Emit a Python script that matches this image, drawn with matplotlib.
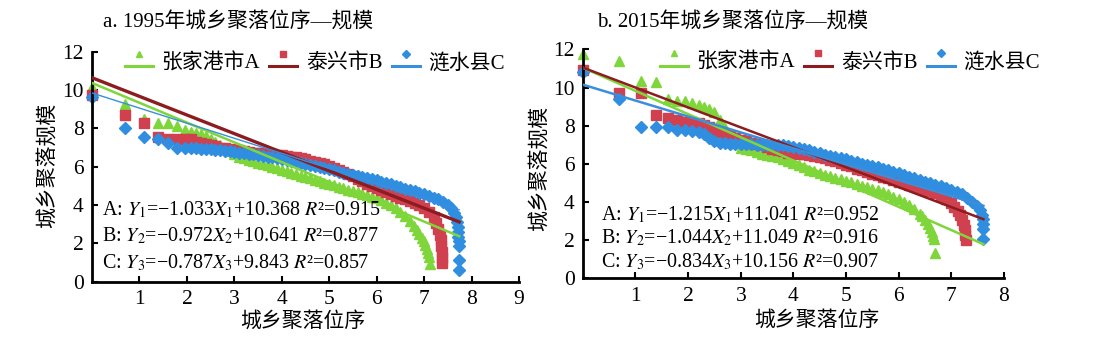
import numpy as np
import matplotlib.pyplot as plt
from matplotlib.lines import Line2D
from matplotlib.legend_handler import HandlerBase

plt.rcParams['font.family'] = ['Liberation Serif', 'Noto Sans CJK SC']
plt.rcParams['mathtext.fontset'] = 'stix'

nombres = ["张家港市A", "泰兴市B", "涟水县C"]

# ---------------- 1995: ln(位序) vs ln(规模) ----------------
a_zjg_x = [0, 0.69, 1.1, 1.39, 1.61, 1.79, 1.95, 2.08, 2.2, 2.3, 2.4, 2.5, 2.6, 2.7, 2.8, 2.9,
           3.0, 3.1, 3.2, 3.3, 3.4, 3.5, 3.6, 3.7, 3.8, 3.9, 4.0, 4.1, 4.2, 4.3, 4.4, 4.5,
           4.6, 4.7, 4.8, 4.9, 5.0, 5.1, 5.2, 5.3, 5.4, 5.5, 5.6, 5.7, 5.8, 5.9, 6.0, 6.1,
           6.2, 6.3, 6.4, 6.5, 6.6, 6.7, 6.78, 6.85, 6.9, 6.95, 7.0, 7.03, 7.06, 7.08, 7.1, 7.12]
a_zjg_y = [10.16, 9.27, 8.5, 8.3, 8.3, 8.12, 7.91, 7.8, 7.75, 7.7, 7.6, 7.45, 7.3, 7.15, 6.95, 6.8,
           6.65, 6.52, 6.44, 6.36, 6.28, 6.2, 6.14, 6.07, 6.0, 5.92, 5.85, 5.77, 5.69, 5.62, 5.54, 5.46,
           5.39, 5.32, 5.25, 5.17, 5.1, 5.02, 4.95, 4.87, 4.8, 4.73, 4.67, 4.6, 4.52, 4.44, 4.35, 4.25,
           4.12, 4.0, 3.85, 3.65, 3.42, 3.15, 2.9, 2.7, 2.5, 2.3, 2.1, 1.9, 1.7, 1.5, 1.3, 0.9]

a_tx_x = [0, 0.69, 1.1, 1.39, 1.61, 1.79, 1.95, 2.08, 2.2, 2.3, 2.4, 2.5, 2.6, 2.7, 2.8, 2.9,
          3.0, 3.1, 3.2, 3.3, 3.4, 3.5, 3.6, 3.7, 3.8, 3.9, 4.0, 4.1, 4.2, 4.3, 4.4, 4.5,
          4.6, 4.7, 4.8, 4.9, 5.0, 5.1, 5.2, 5.3, 5.4, 5.5, 5.6, 5.7, 5.8, 5.9, 6.0, 6.1,
          6.2, 6.3, 6.4, 6.5, 6.6, 6.7, 6.8, 6.9, 7.0, 7.1, 7.2, 7.26, 7.3, 7.33, 7.35, 7.36,
          7.37, 7.37, 7.38]
a_tx_y = [9.75, 8.69, 8.29, 7.56, 7.45, 7.45, 7.45, 7.45, 7.3, 7.22, 7.2, 7.15, 7.1, 7.0, 6.96, 6.93,
          6.88, 6.85, 6.8, 6.78, 6.74, 6.72, 6.7, 6.68, 6.66, 6.63, 6.6, 6.56, 6.52, 6.48, 6.45, 6.4,
          6.32, 6.25, 6.18, 6.12, 6.05, 5.95, 5.85, 5.74, 5.63, 5.5, 5.37, 5.25, 5.12, 5.0, 4.87, 4.78,
          4.68, 4.57, 4.48, 4.38, 4.3, 4.22, 4.12, 4.0, 3.86, 3.62, 3.35, 3.05, 2.75, 2.45, 2.15, 1.85,
          1.55, 1.25, 0.95]

a_lsx_x = [0, 0.69, 1.1, 1.39, 1.61, 1.79, 1.95, 2.08, 2.2, 2.3, 2.4, 2.5, 2.6, 2.7, 2.8, 2.9,
           3.0, 3.1, 3.2, 3.3, 3.4, 3.5, 3.6, 3.7, 3.8, 3.9, 4.0, 4.1, 4.2, 4.3, 4.4, 4.5,
           4.6, 4.7, 4.8, 4.9, 5.0, 5.1, 5.2, 5.3, 5.4, 5.5, 5.6, 5.7, 5.8, 5.9, 6.0, 6.1,
           6.2, 6.3, 6.4, 6.5, 6.6, 6.7, 6.8, 6.9, 7.0, 7.1, 7.2, 7.3, 7.4, 7.5, 7.57, 7.63,
           7.67, 7.7, 7.71, 7.72, 7.72, 7.73, 7.73, 7.73, 7.74]
a_lsx_y = [9.65, 8.03, 7.53, 7.44, 7.22, 6.99, 6.99, 6.97, 6.95, 6.93, 6.92, 6.9, 6.88, 6.86, 6.83, 6.8,
           6.77, 6.73, 6.7, 6.67, 6.64, 6.61, 6.57, 6.53, 6.49, 6.44, 6.39, 6.34, 6.29, 6.24, 6.19, 6.14,
           6.09, 6.04, 5.99, 5.94, 5.89, 5.82, 5.74, 5.66, 5.6, 5.55, 5.5, 5.44, 5.39, 5.34, 5.29, 5.22,
           5.15, 5.08, 5.0, 4.93, 4.86, 4.78, 4.71, 4.63, 4.55, 4.47, 4.39, 4.3, 4.18, 4.02, 3.85, 3.6,
           3.35, 3.1, 2.85, 2.6, 2.35, 2.1, 1.85, 1.13, 0.63]

a_pendiente = [-1.033, -0.972, -0.787]
a_intercepto = [10.368, 10.641, 9.843]
a_r2 = [0.915, 0.877, 0.857]

# ---------------- 2015 ----------------
b_zjg_x = [0, 0.69, 1.1, 1.39, 1.61, 1.79, 1.95, 2.08, 2.2, 2.3, 2.4, 2.5, 2.6, 2.7, 2.8, 2.9,
           3.0, 3.1, 3.2, 3.3, 3.4, 3.5, 3.6, 3.7, 3.8, 3.9, 4.0, 4.1, 4.2, 4.3, 4.4, 4.5,
           4.6, 4.7, 4.8, 4.9, 5.0, 5.1, 5.2, 5.3, 5.4, 5.5, 5.6, 5.7, 5.8, 5.9, 6.0, 6.1,
           6.2, 6.3, 6.4, 6.45, 6.5, 6.55, 6.6, 6.63, 6.66, 6.68, 6.7]
b_zjg_y = [11.77, 11.42, 10.37, 10.31, 9.39, 9.3, 9.3, 9.18, 9.1, 9.0, 8.9, 8.7, 8.3, 7.9, 7.5, 7.1,
           6.85, 6.8, 6.72, 6.62, 6.54, 6.48, 6.42, 6.36, 6.26, 6.15, 6.04, 5.93, 5.82, 5.7, 5.61, 5.52,
           5.43, 5.35, 5.27, 5.19, 5.11, 5.03, 4.95, 4.87, 4.79, 4.7, 4.61, 4.51, 4.4, 4.28, 4.15, 4.0,
           3.85, 3.65, 3.4, 3.25, 3.05, 2.85, 2.65, 2.45, 2.25, 2.05, 1.33]

b_tx_x = [0, 0.69, 1.1, 1.39, 1.61, 1.79, 1.95, 2.08, 2.2, 2.3, 2.4, 2.5, 2.6, 2.7, 2.8, 2.9,
          3.0, 3.1, 3.2, 3.3, 3.4, 3.5, 3.6, 3.7, 3.8, 3.9, 4.0, 4.1, 4.2, 4.3, 4.4, 4.5,
          4.6, 4.7, 4.8, 4.9, 5.0, 5.1, 5.2, 5.3, 5.4, 5.5, 5.6, 5.7, 5.8, 5.9, 6.0, 6.1,
          6.2, 6.3, 6.4, 6.5, 6.6, 6.7, 6.8, 6.9, 7.0, 7.06, 7.12, 7.17, 7.21, 7.24, 7.26, 7.27,
          7.28]
b_tx_y = [10.93, 9.74, 9.74, 8.55, 8.4, 8.31, 8.22, 8.2, 8.15, 8.05, 7.95, 7.8, 7.65, 7.55, 7.45, 7.35,
          7.28, 7.2, 7.12, 7.05, 6.98, 6.9, 6.8, 6.72, 6.66, 6.6, 6.55, 6.52, 6.5, 6.47, 6.42, 6.36,
          6.3, 6.22, 6.14, 6.06, 5.97, 5.87, 5.76, 5.66, 5.57, 5.48, 5.4, 5.32, 5.24, 5.15, 5.07, 4.98,
          4.9, 4.82, 4.74, 4.65, 4.56, 4.46, 4.34, 4.18, 3.95, 3.75, 3.55, 3.3, 3.05, 2.8, 2.55, 2.3,
          2.0]

b_lsx_x = [0, 0.69, 1.1, 1.39, 1.61, 1.79, 1.95, 2.08, 2.2, 2.3, 2.4, 2.5, 2.6, 2.7, 2.8, 2.9,
           3.0, 3.1, 3.2, 3.3, 3.4, 3.5, 3.6, 3.7, 3.8, 3.9, 4.0, 4.1, 4.2, 4.3, 4.4, 4.5,
           4.6, 4.7, 4.8, 4.9, 5.0, 5.1, 5.2, 5.3, 5.4, 5.5, 5.6, 5.7, 5.8, 5.9, 6.0, 6.1,
           6.2, 6.3, 6.4, 6.5, 6.6, 6.7, 6.8, 6.9, 7.0, 7.1, 7.2, 7.3, 7.4, 7.48, 7.54, 7.58,
           7.6, 7.61, 7.6, 7.6]
b_lsx_y = [10.8, 9.39, 7.94, 7.92, 7.92, 7.78, 7.78, 7.75, 7.7, 7.55, 7.38, 7.2, 7.12, 7.08, 7.05, 7.05,
           7.05, 7.04, 7.03, 7.02, 7.01, 7.0, 7.0, 6.99, 6.97, 6.94, 6.91, 6.86, 6.8, 6.73, 6.65, 6.57,
           6.48, 6.42, 6.37, 6.32, 6.26, 6.18, 6.1, 6.02, 5.96, 5.9, 5.84, 5.76, 5.68, 5.6, 5.52, 5.44,
           5.34, 5.26, 5.17, 5.08, 5.0, 4.91, 4.83, 4.74, 4.64, 4.53, 4.4, 4.22, 4.02, 3.82, 3.6, 3.35,
           3.1, 2.85, 2.6, 2.05]

b_pendiente = [-1.215, -1.044, -0.834]
b_intercepto = [11.041, 11.049, 10.156]
b_r2 = [0.952, 0.916, 0.907]

marcas = [('^', '#7ED63A', 7.5), ('s', '#D0404E', 7.5), ('D', '#2F8EE0', 6.5)]
colores_linea = ['#7ED63A', '#8C1C20', '#3A8FDC']


class MarcaSobreLinea(HandlerBase):
    # marcador pequeño encima de la linea de tendencia, como en excel
    def create_artists(self, legend, orig_handle, xdescent, ydescent,
                       width, height, fontsize, trans):
        pts, lin = orig_handle
        x0 = -xdescent
        l = Line2D([x0, x0 + width], [height * 0.15 - ydescent] * 2,
                   color=lin.get_color(), lw=2.2, transform=trans)
        m = Line2D([x0 + width / 2], [height * 1.0 - ydescent], ls='none',
                   marker=pts.get_marker(), ms=4.5, mfc=pts.get_markerfacecolor(),
                   mec=pts.get_markerfacecolor(), transform=trans)
        return [l, m]


def grafica(ax, series, pend, inter, r2, anchos, xmax, titulo, pos):
    hs = []
    for (x, y), (mk, c, ms) in zip(series, marcas):
        p, = ax.plot(x, y, ls='none', marker=mk, ms=ms, mfc=c, mec=c,
                     zorder=2, clip_on=False)
        hs.append(p)
    xfin = max(max(x) for x, y in series)
    xl = np.array([0, xfin])
    ls = []
    for k, b, c, w in zip(pend, inter, colores_linea, anchos):
        l, = ax.plot(xl, k * xl + b, color=c, lw=w, zorder=3)
        ls.append(l)

    letras = "ABC"
    for i in range(3):
        txt = "%s: $Y_%d$=\u2212%.3f$X_%d$+%.3f $R$\u00b2=%.3f" % (
            letras[i], i + 1, abs(pend[i]), i + 1, inter[i], r2[i])
        ax.text(pos['eq_x'], pos['eq_y'][i], txt, transform=ax.transAxes,
                fontsize=14.4, va='center', ha='left')

    ax.legend(handles=list(zip(hs, ls)), labels=nombres,
              handler_map={tuple: MarcaSobreLinea()}, ncol=3, frameon=False,
              loc='center left', bbox_to_anchor=pos['leg'], fontsize=15,
              handlelength=1.35, handletextpad=0.4, columnspacing=0.45,
              borderaxespad=0, borderpad=0)

    ax.set_xlim(0, xmax)
    ax.set_ylim(0, 12)
    ax.set_xticks(range(1, xmax + 1))
    ax.set_yticks(range(0, 13, 2))
    ax.tick_params(direction='in', length=4, width=1.5, labelsize=15.5, pad=6)
    for s in ['top', 'right']:
        ax.spines[s].set_visible(False)
    for s in ['left', 'bottom']:
        ax.spines[s].set_linewidth(2)

    ax.set_xlabel("城乡聚落位序", fontsize=15)
    ax.set_ylabel("城乡聚落规模", fontsize=15)
    ax.xaxis.set_label_coords(*pos['xlab'])
    ax.yaxis.set_label_coords(*pos['ylab'])
    ax.text(pos['tit'][0], pos['tit'][1], titulo, transform=ax.transAxes,
            fontsize=15, va='center', ha='left')


fig = plt.figure(figsize=(11.06, 3.4), dpi=100)
ax1 = fig.add_axes([0.0832, 0.1715, 0.386, 0.6765])
ax2 = fig.add_axes([0.527, 0.181, 0.3807, 0.6735])

grafica(ax1, [(a_zjg_x, a_zjg_y), (a_tx_x, a_tx_y), (a_lsx_x, a_lsx_y)],
        a_pendiente, a_intercepto, a_r2, [1.8, 2.4, 1.0], 9,
        "a. 1995年城乡聚落位序—规模",
        {'eq_x': 0.023, 'eq_y': [0.312, 0.198, 0.08], 'leg': (0.077, 0.95),
         'xlab': (0.494, -0.132), 'ylab': (-0.08, 0.507), 'tit': (0.026, 1.125)})

grafica(ax2, [(b_zjg_x, b_zjg_y), (b_tx_x, b_tx_y), (b_lsx_x, b_lsx_y)],
        b_pendiente, b_intercepto, b_r2, [1.8, 1.8, 1.8], 8,
        "b. 2015年城乡聚落位序—规模",
        {'eq_x': 0.044, 'eq_y': [0.277, 0.176, 0.073], 'leg': (0.183, 0.941),
         'xlab': (0.555, -0.142), 'ylab': (-0.078, 0.48), 'tit': (0.033, 1.116)})

plt.savefig("out.png", dpi=100)
